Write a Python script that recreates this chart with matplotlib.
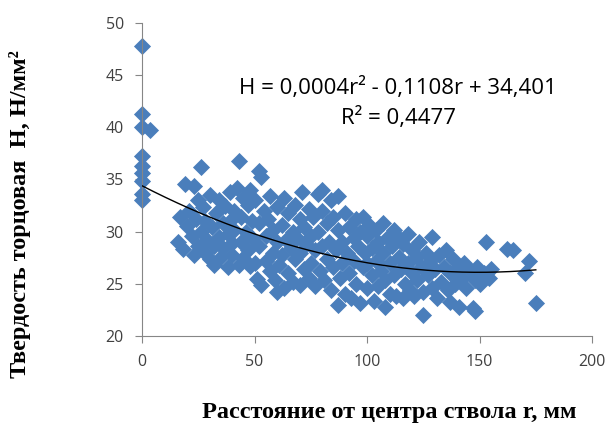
import matplotlib.pyplot as plt
import numpy as np

# distance from stem centre r, mm  and  end hardness H, N/mm2
r = np.array([
    0, 0, 0, 3.5, 0, 0, 0, 0, 0, 0,
    17, 16, 18, 19, 20, 21, 22, 23, 23, 24, 25, 25, 26, 26, 27, 28, 28, 29, 30, 30,
    31, 32, 32, 33, 34, 34, 35, 36, 36, 37, 38, 38, 39, 39, 40, 40, 41, 41,
    43, 42, 43, 44, 44, 45, 45, 46, 47, 47, 48, 48, 49, 49, 50, 50,
    52, 53, 51, 52, 52, 53, 54, 55, 55, 56, 57, 57, 58, 58, 59, 60, 60, 60,
    61, 62, 62, 63, 63, 64, 65, 65, 66, 67, 67, 68, 68, 69, 70, 70, 70,
    71, 72, 72, 73, 74, 74, 75, 75, 76, 77, 77, 78, 78, 79, 80, 80, 80,
    81, 82, 82, 83, 84, 84, 85, 85, 86, 87, 87, 87, 88, 89, 89, 90, 90,
    91, 92, 92, 93, 94, 94, 95, 95, 96, 97, 97, 98, 98, 99, 100, 100, 100,
    101, 102, 102, 103, 104, 104, 105, 105, 106, 107, 107, 108, 108, 109, 110, 110,
    111, 112, 112, 113, 114, 114, 115, 116, 116, 117, 118, 118, 119, 120, 120,
    121, 122, 122, 123, 124, 125, 125, 126, 127, 128, 129, 129, 130,
    131, 132, 133, 134, 135, 136, 137, 137, 138, 139, 140,
    141, 142, 143, 144, 146, 147, 148, 148, 149, 150,
    152, 153, 154, 155, 162, 165, 170, 172, 175,
])
h = np.array([
    47.8, 41.3, 40.0, 39.7, 37.3, 36.3, 35.6, 34.9, 33.6, 33.0,
    31.4, 29.0, 28.3, 34.6, 30.5, 32.0, 29.6, 34.4, 27.8, 31.2, 28.6, 33.0, 36.2, 30.0, 32.4, 28.0, 31.0, 29.2, 33.5, 27.4,
    30.4, 28.6, 26.8, 31.8, 29.5, 33.0, 27.6, 30.8, 28.4, 32.5, 26.6, 29.8, 31.0, 33.8, 27.8, 28.9, 30.2, 32.0,
    36.8, 34.2, 26.8, 29.0, 31.4, 33.2, 27.5, 30.0, 28.2, 32.6, 26.7, 34.0, 29.4, 31.0, 27.0, 33.0,
    35.8, 35.2, 25.5, 28.6, 30.8, 24.9, 32.0, 27.2, 29.6, 31.2, 26.2, 33.4, 28.0, 30.2, 25.4, 24.2, 29.0, 32.4,
    26.8, 30.6, 27.8, 33.2, 24.6, 29.2, 31.8, 26.0, 28.4, 30.0, 25.2, 32.6, 27.4, 29.4, 24.9, 31.2, 28.0,
    33.8, 26.4, 30.4, 28.8, 32.2, 25.6, 29.6, 27.0, 31.4, 24.8, 28.2, 33.6, 30.0, 26.2, 32.0, 28.6, 34.0,
    25.4, 30.8, 27.4, 29.0, 33.0, 24.4, 31.4, 26.6, 28.2, 23.0, 33.4, 30.2, 25.6, 29.0, 27.0, 31.8, 24.0,
    28.0, 30.4, 26.0, 23.6, 29.4, 27.2, 31.2, 25.0, 28.6, 23.2, 30.0, 26.6, 31.4, 28.0, 24.6, 29.6, 27.0,
    30.6, 25.8, 28.4, 23.4, 30.2, 27.2, 29.0, 24.8, 26.2, 30.8, 28.0, 22.8, 25.4, 29.4, 27.0, 24.0,
    28.6, 30.2, 25.8, 23.8, 27.6, 29.4, 26.4, 23.6, 28.8, 25.0, 27.0, 29.8, 24.4, 26.0, 28.2,
    23.8, 27.6, 25.4, 29.0, 26.6, 22.0, 24.2, 28.0, 25.8, 27.2, 29.5, 24.6, 26.4,
    23.6, 27.8, 25.2, 26.6, 28.2, 24.4, 23.3, 26.0, 27.4, 25.0, 26.4,
    22.8, 25.6, 27.0, 24.6, 26.2, 22.7, 25.4, 22.4, 26.6, 25.0,
    26.0, 29.0, 25.6, 26.4, 28.3, 28.2, 26.0, 27.2, 23.2,
])

# trend line (unrounded quadratic term; the label shows the rounded one)
coef = [0.00037, -0.1108, 34.401]
r_fit = np.linspace(0, 175, 200)

fig = plt.figure(figsize=(6.11, 4.25), dpi=100)
ax = fig.add_axes([0.2324, 0.2094, 0.7366, 0.7365])

ax.scatter(r, h, marker='D', s=76, color='#4A7EBB', linewidths=0, zorder=2, clip_on=False)
ax.plot(r_fit, np.polyval(coef, r_fit), color='black', lw=1, zorder=3)

ax.set_xlim(0, 200)
ax.set_ylim(20, 50)
ax.set_xticks([0, 50, 100, 150, 200])
ax.set_yticks([20, 25, 30, 35, 40, 45, 50])
for side in ['top', 'right']:
    ax.spines[side].set_visible(False)
for side in ['left', 'bottom']:
    ax.spines[side].set_color('#868686')
ax.tick_params(colors='#868686', labelcolor='#404040', length=5, labelsize=11.5)
for lab in ax.get_xticklabels() + ax.get_yticklabels():
    lab.set_family('Open Sans')
ax.tick_params(axis='x', pad=8)
ax.tick_params(axis='y', pad=8)

ax.text(0.569, 0.744, 'H = 0,0004r² - 0,1108r + 34,401\nR² = 0,4477', transform=ax.transAxes,
        ha='center', va='center', fontsize=16, family='Open Sans', linespacing=1.45)

fig.text(0.637, 0.03, 'Расстояние от центра ствола r, мм', ha='center', va='center',
         fontsize=17.5, fontweight='bold', family='Liberation Serif')
fig.text(0.032, 0.496, 'Твердость торцовая  H, Н/мм²', ha='center', va='center', rotation=90,
         fontsize=17.5, fontweight='bold', family='Liberation Serif')

plt.savefig('out.png')
